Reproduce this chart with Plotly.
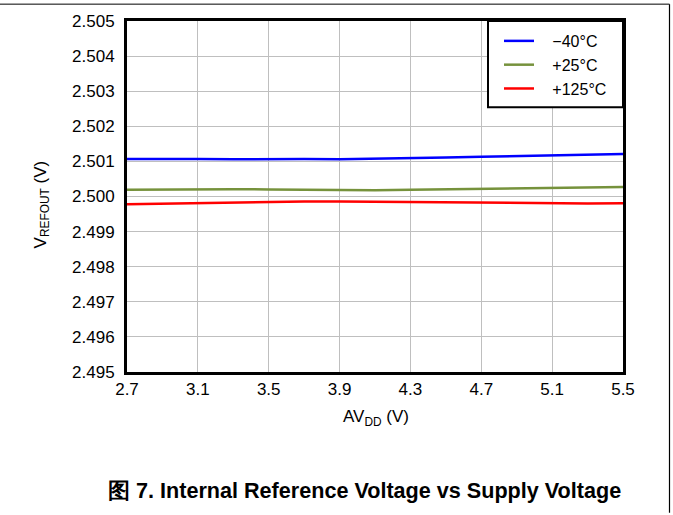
import plotly.graph_objects as go

# Data
avdd = [2.7, 2.9, 3.1, 3.3, 3.5, 3.7, 3.9, 4.1, 4.3, 4.5, 4.7, 4.9, 5.1, 5.3, 5.5]
v_m40 = [2.50107, 2.50108, 2.50107, 2.50106, 2.50107, 2.50107, 2.50106, 2.50107,
         2.50109, 2.50111, 2.50113, 2.50115, 2.50117, 2.50119, 2.50121]
v_p25 = [2.50019, 2.50020, 2.50021, 2.50021, 2.50020, 2.50019, 2.50019, 2.50018,
         2.50019, 2.50020, 2.50021, 2.50022, 2.50023, 2.50025, 2.50027]
v_p125 = [2.49978, 2.49980, 2.49981, 2.49983, 2.49985, 2.49986, 2.49986, 2.49985,
          2.49984, 2.49983, 2.49982, 2.49981, 2.49980, 2.49980, 2.49981]
series_names = ["\u221240°C", "+25°C", "+125°C"]
x_ticks = [2.7, 3.1, 3.5, 3.9, 4.3, 4.7, 5.1, 5.5]
y_ticks = [2.495, 2.496, 2.497, 2.498, 2.499, 2.500, 2.501, 2.502, 2.503, 2.504, 2.505]
caption = "图 7. Internal Reference Voltage vs Supply Voltage"

colors = ["#0000FF", "#76923C", "#FF0000"]
FONT = "Arial, Liberation Sans, sans-serif"
FS = 17

fig = go.Figure()
for name, ys, c in zip(series_names, [v_m40, v_p25, v_p125], colors):
    fig.add_trace(go.Scatter(x=avdd, y=ys, mode="lines", name="\u00a0\u00a0\u00a0" + name,
                             line=dict(color=c, width=2.5)))

W, H = 673, 515
L, R, T, B = 127, 50, 18, 143
pw, ph = W - L - R, H - T - B

def px(xp):
    return (xp - L) / pw

def py(yp):
    return (H - B - yp) / ph

fig.update_layout(
    width=W, height=H,
    margin=dict(l=L, r=R, t=T, b=B, pad=0),
    paper_bgcolor="white", plot_bgcolor="white",
    font=dict(family=FONT, size=FS, color="black"),
    showlegend=True,
    legend=dict(x=px(499), y=py(21), xanchor="left", yanchor="top",
                bgcolor="rgba(0,0,0,0)", borderwidth=0,
                font=dict(family=FONT, size=16, color="black"),
                tracegroupgap=0, itemwidth=30),
    xaxis=dict(range=[2.7, 5.5], tickvals=x_ticks, ticktext=[f"{v:.1f}" for v in x_ticks],
               showgrid=True, gridcolor="#BFBFBF", gridwidth=1,
               showline=True, linecolor="black", linewidth=3, mirror=True,
               ticks="", ticklabelstandoff=0, zeroline=False,
               tickfont=dict(family=FONT, size=FS, color="black")),
    yaxis=dict(range=[2.495, 2.505], tickvals=y_ticks, ticktext=[f"{v:.3f}" for v in y_ticks],
               showgrid=True, gridcolor="#BFBFBF", gridwidth=1,
               showline=True, linecolor="black", linewidth=3, mirror=True,
               ticks="", ticklabelstandoff=6, zeroline=False,
               tickfont=dict(family=FONT, size=FS, color="black")),
)

# legend box (drawn as shape so it can be sized like the reference)
fig.add_shape(type="rect", xref="paper", yref="paper",
              x0=px(488), x1=px(623), y0=py(105), y1=1,
              line=dict(color="black", width=2), fillcolor="white", layer="above")

# page frame lines (top and right)
fig.add_shape(type="line", xref="paper", yref="paper",
              x0=px(0), x1=px(669.5), y0=py(1), y1=py(1),
              line=dict(color="black", width=1))
fig.add_shape(type="line", xref="paper", yref="paper",
              x0=px(669.5), x1=px(669.5), y0=py(1), y1=py(514),
              line=dict(color="black", width=1.2))

fig.add_annotation(text="AV<sub>DD</sub> (V)", xref="paper", yref="paper",
                   x=px(376), y=py(418), showarrow=False,
                   xanchor="center", yanchor="middle",
                   font=dict(family=FONT, size=FS, color="black"))
fig.add_annotation(text="V<sub>REFOUT</sub> (V)", xref="paper", yref="paper",
                   x=px(42), y=py(203), showarrow=False, textangle=-90,
                   xanchor="center", yanchor="middle",
                   font=dict(family=FONT, size=FS, color="black"))
fig.add_annotation(text="<b>" + caption + "</b>", xref="paper", yref="paper",
                   x=px(364), y=py(492), showarrow=False,
                   xanchor="center", yanchor="middle",
                   font=dict(family=FONT, size=21.6, color="black"))

fig.write_html("out.html", config={"displayModeBar": False},
               post_script="document.body.style.margin='0';document.body.style.padding='0';")
